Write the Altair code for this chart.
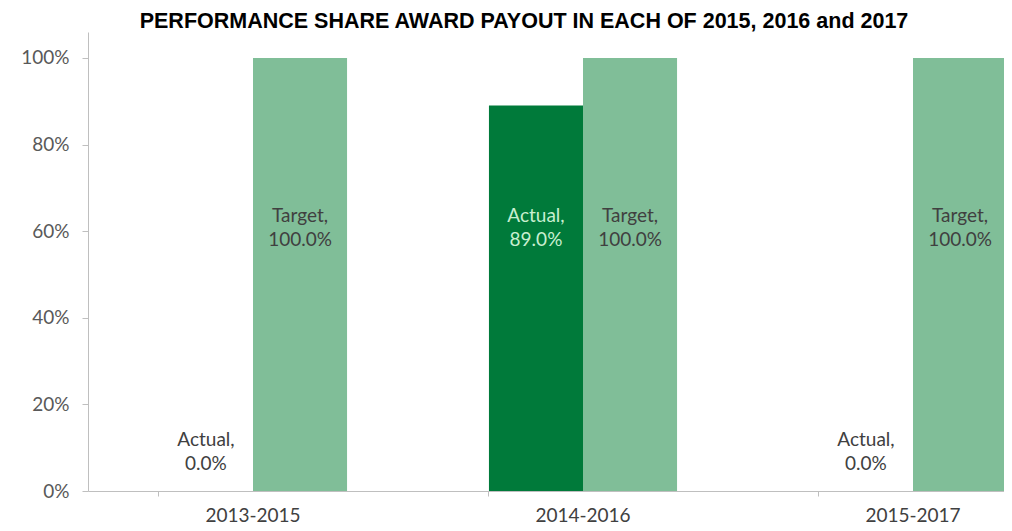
import altair as alt
import pandas as pd

periods = ["2013-2015", "2014-2016", "2015-2017"]
series_names = ["Actual", "Target"]
actual = [0.0, 89.0, 0.0]
target = [100.0, 100.0, 100.0]
y_ticks = [0, 20, 40, 60, 80, 100]
title_text = "PERFORMANCE SHARE AWARD PAYOUT IN EACH OF 2015, 2016 and 2017"

rows = []
for p, a, t in zip(periods, actual, target):
    for s, v in (("Actual", a), ("Target", t)):
        rows.append({"period": p, "series": s, "value": v,
                     "label": f"{s},\n{v:.1f}%"})
df = pd.DataFrame(rows)

x_enc = alt.X("period:N", sort=periods,
              scale=alt.Scale(range=[0, 990], paddingInner=0.43, paddingOuter=0.215),
              axis=alt.Axis(title=None, labelAngle=0, bandPosition=0, tickSize=5,
                            labelPadding=10, labelFont="Lato", labelFontSize=19,
                            labelColor="#404040", domainColor="#BFBFBF",
                            tickColor="#BFBFBF", grid=False))
xo_enc = alt.XOffset("series:N", sort=series_names,
                     scale=alt.Scale(paddingInner=0, paddingOuter=0))

base = alt.Chart(df)

bars = base.mark_bar().encode(
    x=x_enc,
    xOffset=xo_enc,
    y=alt.Y("value:Q",
            scale=alt.Scale(domain=[0, 106], nice=False),
            axis=alt.Axis(title=None, values=y_ticks, labelExpr="datum.value + '%'",
                          tickSize=6, labelPadding=13, labelFont="Lato",
                          labelFontSize=19, labelColor="#595959",
                          domainColor="#BFBFBF", tickColor="#BFBFBF", grid=False)),
    color=alt.Color("series:N", sort=series_names,
                    scale=alt.Scale(domain=series_names, range=["#007A3A", "#80BE98"]),
                    legend=None),
)

labels = base.transform_calculate(
    label_y="datum.value > 0 ? 63.5 : 11.8"
).mark_text(font="Lato", fontSize=19, lineBreak="\n", lineHeight=24,
            align="center", baseline="middle").encode(
    x=alt.X("period:N", sort=periods),
    xOffset=xo_enc,
    y=alt.Y("label_y:Q"),
    text="label:N",
    color=alt.condition("datum.series == 'Actual' && datum.value > 0",
                        alt.value("#C8EFD0"), alt.value("#404040")),
)

chart = alt.layer(bars, labels).properties(
    width=916,
    height=459,
    title=alt.TitleParams(title_text, font="Liberation Sans", fontWeight="bold",
                          fontSize=21.5, color="#000000", anchor="middle",
                          dx=-22, offset=0),
    autosize=alt.AutoSizeParams(type="none"),
    padding={"left": 80, "top": 24, "right": 0, "bottom": 35},
).configure_view(stroke=None)

chart.save("out.html", embed_options={"renderer": "svg", "actions": False})
